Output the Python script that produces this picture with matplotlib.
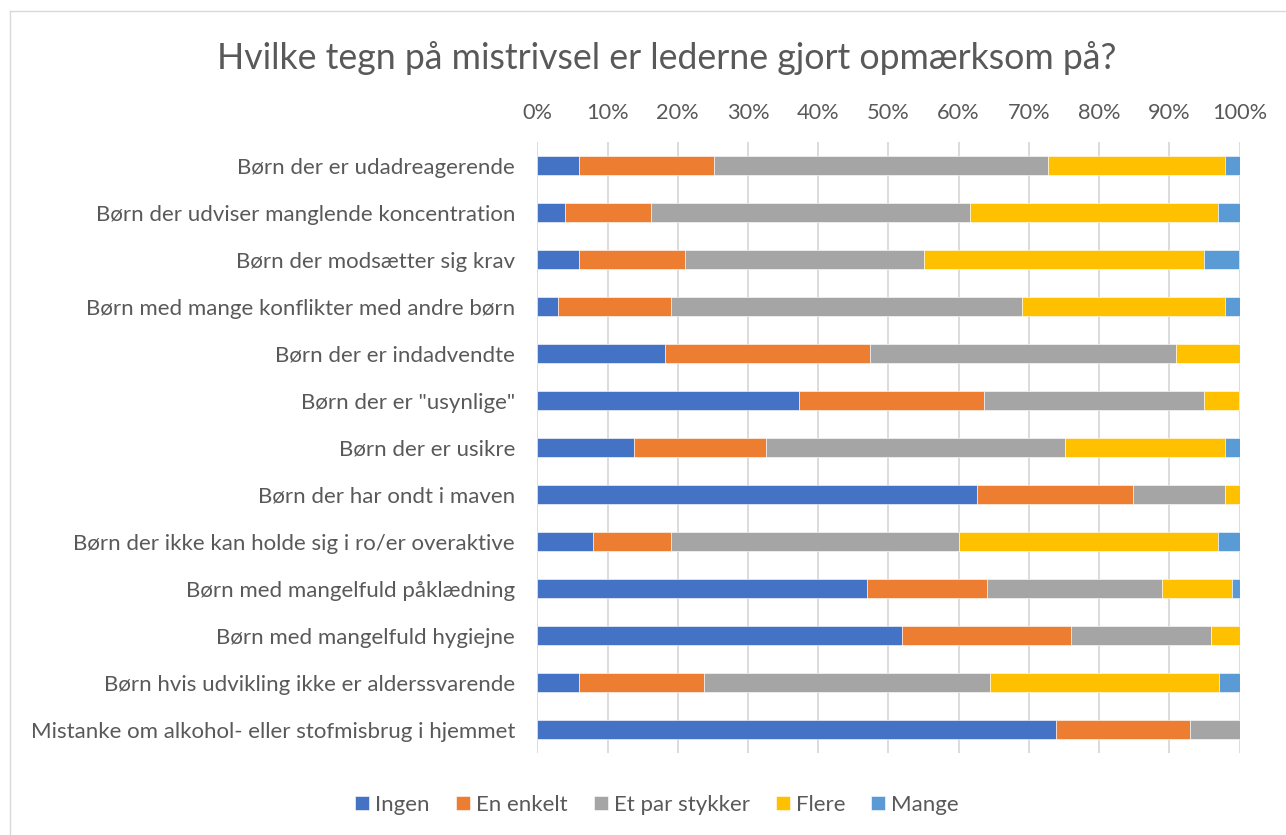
import matplotlib
matplotlib.use("Agg")
import matplotlib.pyplot as plt
from matplotlib.lines import Line2D
import numpy as np

plt.rcParams['font.family'] = ['Lato', 'DejaVu Sans']

title = "Hvilke tegn på mistrivsel er lederne gjort opmærksom på?"
categories = [
    "Børn der er udadreagerende",
    "Børn der udviser manglende koncentration",
    "Børn der modsætter sig krav",
    "Børn med mange konflikter med andre børn",
    "Børn der er indadvendte",
    'Børn der er "usynlige"',
    "Børn der er usikre",
    "Børn der har ondt i maven",
    "Børn der ikke kan holde sig i ro/er overaktive",
    "Børn med mangelfuld påklædning",
    "Børn med mangelfuld hygiejne",
    "Børn hvis udvikling ikke er alderssvarende",
    "Mistanke om alkohol- eller stofmisbrug i hjemmet",
]
series_names = ["Ingen", "En enkelt", "Et par stykker", "Flere", "Mange"]
ingen     = [6.0, 4.0, 6.0, 3.0, 18.2, 37.3, 13.8, 62.6, 8.0, 47.0, 52.0, 5.9, 73.9]
en_enkelt = [19.2, 12.2, 15.0, 16.0, 29.2, 26.3, 18.8, 22.3, 11.0, 17.0, 24.0, 17.8, 19.1]
et_par    = [47.5, 45.4, 34.0, 50.0, 43.5, 31.4, 42.6, 13.1, 41.0, 25.0, 20.0, 40.7, 7.0]
flere     = [25.3, 35.4, 40.0, 29.0, 9.1, 5.0, 22.8, 2.0, 37.0, 10.0, 4.0, 32.7, 0.0]
mange     = [2.0, 3.0, 5.0, 2.0, 0.0, 0.0, 2.0, 0.0, 3.0, 1.0, 0.0, 2.9, 0.0]
colors = ["#4472C4", "#ED7D31", "#A5A5A5", "#FFC000", "#5B9BD5"]
xticks = [0, 10, 20, 30, 40, 50, 60, 70, 80, 90, 100]
xtick_labels = [f"{t}%" for t in xticks]

W, H = 1286, 835
fig = plt.figure(figsize=(W / 100, H / 100), dpi=100)
fig.patch.set_facecolor("white")

ax_l, ax_r = 537.3, 1239.5
ax_t, ax_b = 142.3, 753.3
ax = fig.add_axes([ax_l / W, 1 - ax_b / H, (ax_r - ax_l) / W, (ax_b - ax_t) / H])

data = [ingen, en_enkelt, et_par, flere, mange]
y = np.arange(len(categories))
tot = np.array([sum(d[i] for d in data) for i in range(len(categories))])
left = np.zeros(len(categories))
for vals, name, c in zip(data, series_names, colors):
    v = np.array(vals, dtype=float) / tot * 100
    ax.barh(y, v, left=left, height=0.4, color=c, label=name,
            edgecolor="white", linewidth=0.4, zorder=3)
    left += v

ax.set_xlim(0, 100)
ax.set_ylim(len(categories) - 0.5, -0.5)
ax.set_yticks(y)
ax.set_yticklabels(categories, fontsize=16, color="#595959")
ax.set_xticks(xticks)
ax.set_xticklabels(xtick_labels, fontsize=15.7, color="#595959")
ax.xaxis.tick_top()
ax.tick_params(axis="x", length=0, pad=14)
ax.tick_params(axis="y", length=0, pad=16)
ax.grid(axis="x", color="#D9D9D9", linewidth=1.3, zorder=0)
for s in ax.spines.values():
    s.set_visible(False)

fig.text(667 / W, 1 - 58 / H, title, ha="center", va="center",
         fontsize=25.7, color="#595959")

leg = ax.legend(loc="center", bbox_to_anchor=((657 - ax_l) / (ax_r - ax_l), (ax_b - 805) / (ax_b - ax_t)),
                ncol=5, frameon=False, fontsize=16, handlelength=0.63, handleheight=0.63,
                handletextpad=0.27, columnspacing=1.17, labelcolor="#595959",
                borderpad=0, borderaxespad=0)

# chart-area border (left and top visible)
fig.add_artist(Line2D([10 / W, 10 / W], [0, 1 - 11 / H], transform=fig.transFigure,
                      color="#D9D9D9", linewidth=1.0))
fig.add_artist(Line2D([10 / W, 1], [1 - 11 / H, 1 - 11 / H], transform=fig.transFigure,
                      color="#D9D9D9", linewidth=1.0))

fig.savefig("out.png", dpi=100)
